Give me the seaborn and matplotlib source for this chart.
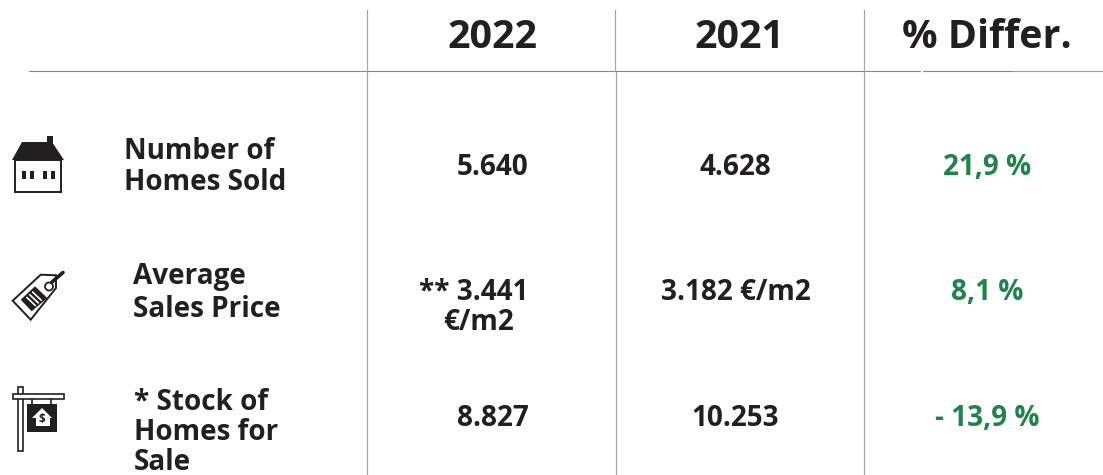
"""Homes sold summary table"""

import matplotlib.pyplot as plt
import seaborn as sns
from matplotlib.patches import Circle, Polygon, Rectangle

years = ["2022", "2021", "% Differ."]
labels = [
    ["Number of", "Homes Sold"],
    ["Average", "Sales Price"],
    ["* Stock of", "Homes for", "Sale"],
]
values_2022 = [["5.640"], ["** 3.441", "€/m2"], ["8.827"]]
values_2021 = ["4.628", "3.182 €/m2", "10.253"]
differ = ["21,9 %", "8,1 %", "- 13,9 %"]

DARK = "#231f20"
GREEN = "#1e8449"
HLINE = "#858585"
VLINE = "#a6a6a6"

sns.set_theme(style="white")
plt.rcParams["font.family"] = ["Open Sans", "DejaVu Sans"]


def draw_house(ax):
    """House icon"""
    ax.add_patch(Rectangle((15, 160), 46, 32, fc="white", ec=DARK, lw=1.4))
    ax.add_patch(Rectangle((47, 136), 6, 10, fc=DARK, ec="none"))
    ax.add_patch(
        Polygon([(12, 160), (22, 142), (52, 142), (64, 160)], fc=DARK, ec="none")
    )
    for x in (22, 30, 43, 51):
        ax.add_patch(Rectangle((x, 171), 4, 8, fc=DARK, ec="none"))


def draw_tag(ax):
    """Price tag icon"""
    ax.add_patch(
        Polygon(
            [(12.7, 300.7), (40.7, 274.7), (56, 275.3), (56, 288), (30.7, 319.7)],
            fc="white",
            ec=DARK,
            lw=1.4,
        )
    )
    ax.add_patch(
        Polygon(
            [(20.7, 299.7), (35, 286.3), (47.3, 298), (31.7, 311.3)],
            fc=DARK,
            ec="none",
        )
    )
    for k in (0, 1, 2):
        ax.plot(
            [26.9 + 2.9 * k, 35.4 + 2.9 * k],
            [297.5 - 2.7 * k, 305.6 - 2.7 * k],
            color="white",
            lw=1.2,
        )
    ax.add_patch(Circle((49, 286.5), 4, fc="white", ec=DARK, lw=1.3))
    ax.plot([52, 63], [282, 272.5], color=DARK, lw=2.6)


def draw_sign(ax):
    """For sale sign icon"""
    ax.add_patch(Rectangle((18, 387), 5, 64, fc="white", ec=DARK, lw=1.2))
    ax.add_patch(Rectangle((13, 394), 51, 5, fc="white", ec=DARK, lw=1.2))
    ax.plot([32, 32], [399, 404], color=DARK, lw=1.2)
    ax.plot([51, 51], [399, 404], color=DARK, lw=1.2)
    ax.add_patch(Rectangle((27, 404), 30, 28, fc=DARK, ec="none"))
    ax.add_patch(
        Polygon(
            [
                (32, 418),
                (42, 408),
                (52, 418),
                (50, 418),
                (50, 426),
                (36, 426),
                (36, 418),
            ],
            fc="white",
            ec="none",
        )
    )
    ax.text(
        42, 419.5, "$", color=DARK, fontsize=8.5, fontweight="bold",
        ha="center", va="center",
    )


fig, ax = plt.subplots(figsize=(11.03, 4.75), dpi=100)
fig.subplots_adjust(left=0, right=1, bottom=0, top=1)
ax.set_xlim(0, 1103)
ax.set_ylim(475, 0)
ax.axis("off")

# grid lines, the rule has small breaks at the right side
ax.plot([29, 920], [71, 71], color=HLINE, lw=0.8)
ax.plot([923, 1013], [71, 71], color=HLINE, lw=0.8)
ax.plot([1014, 1103], [71, 71], color="#a0a0a0", lw=0.8)
for x_top, x_low in ((367, 367), (615, 616), (864, 864)):
    ax.plot([x_top, x_top], [10, 71], color=VLINE, lw=0.9)
    ax.plot([x_low, x_low], [72, 475], color=VLINE, lw=0.9)

# header
for x, txt in zip((492.5, 739, 987), years):
    ax.text(
        x, 33, txt, color=DARK, fontsize=28.4, fontweight="bold",
        ha="center", va="center_baseline",
    )

# row labels
label_x = (124, 133, 134)
label_y = ((148, 179), (273, 306), (399, 429, 459))
for row, lines in enumerate(labels):
    for line, y in zip(lines, label_y[row]):
        ax.text(
            label_x[row], y, line, color=DARK, fontsize=20.1, fontweight="bold",
            ha="left", va="center_baseline",
        )

# values
col_y = ((164,), (289, 319), (415,))
for lines, ys in zip(values_2022, col_y):
    for line, y in zip(lines, ys):
        ax.text(
            492.5 if len(lines) == 1 else 474 if line[0] == "*" else 478,
            y, line, color=DARK, fontsize=20.1, fontweight="bold",
            ha="center", va="center_baseline",
        )
for val, y in zip(values_2021, (164, 289, 415)):
    ax.text(
        735.5, y, val, color=DARK, fontsize=20.1, fontweight="bold",
        ha="center", va="center_baseline",
    )
for val, y in zip(differ, (164, 289, 415)):
    ax.text(
        987, y, val, color=GREEN, fontsize=20.1, fontweight="bold",
        ha="center", va="center_baseline",
    )

draw_house(ax)
draw_tag(ax)
draw_sign(ax)

fig.savefig("out.png", dpi=100)
